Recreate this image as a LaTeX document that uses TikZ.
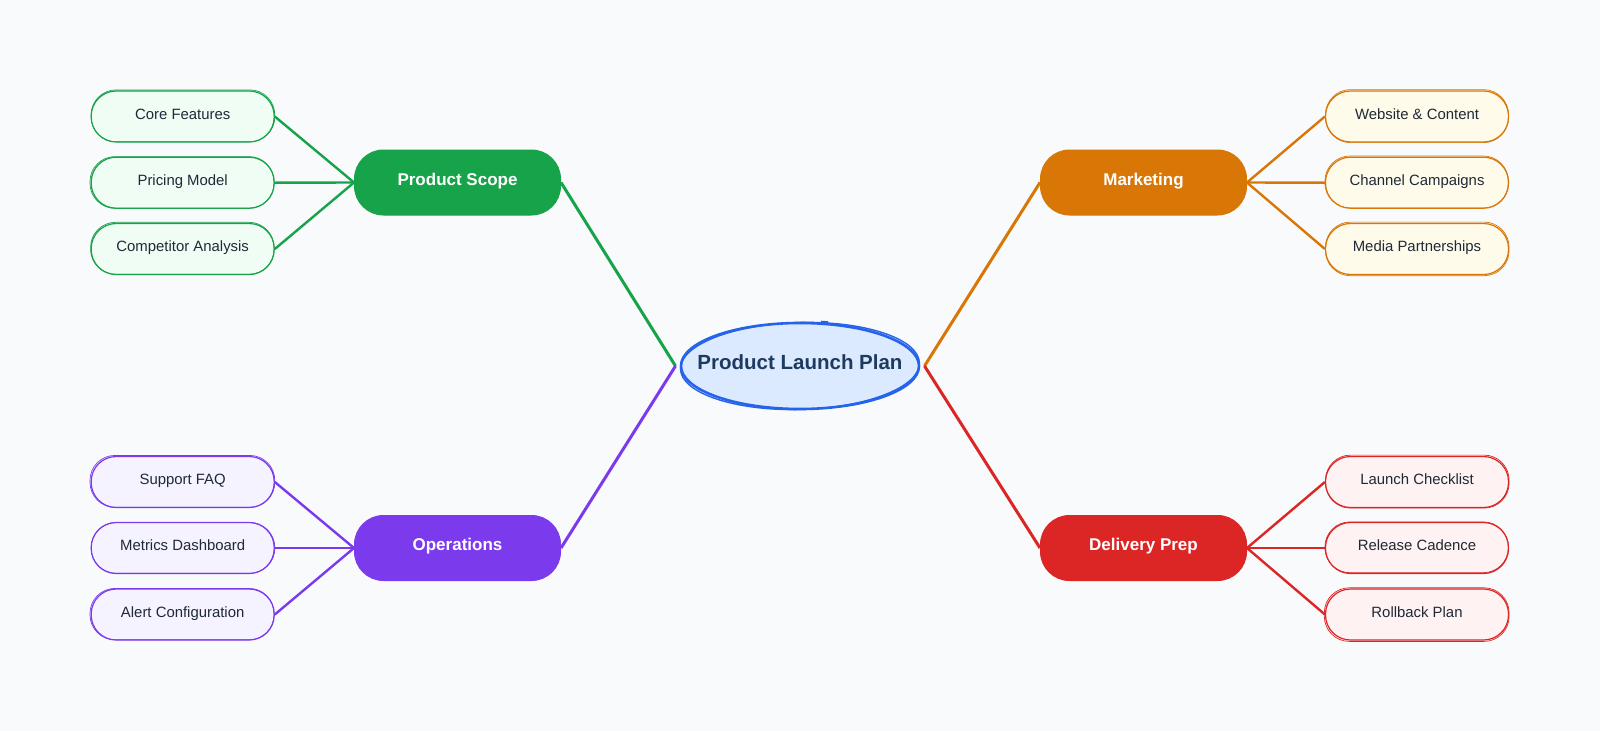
\documentclass[tikz,border=0pt]{standalone}
\usepackage{fontspec}
\setmainfont{Liberation Sans}
\usepackage{xcolor}
\usetikzlibrary{shapes.geometric}

\definecolor{pagebg}{HTML}{F9FAFC}
\definecolor{rootline}{HTML}{2563EB}
\definecolor{rootfill}{HTML}{DBEAFE}
\definecolor{roottext}{HTML}{1E3A5F}
\definecolor{leaftext}{HTML}{1F2937}
\definecolor{scopec}{HTML}{16A34A}
\definecolor{scopef}{HTML}{F0FDF4}
\definecolor{marketc}{HTML}{D97706}
\definecolor{marketf}{HTML}{FFFBEB}
\definecolor{opsc}{HTML}{7C3AED}
\definecolor{opsf}{HTML}{F5F3FF}
\definecolor{prepc}{HTML}{DC2626}
\definecolor{prepf}{HTML}{FEF2F2}

\tikzset{
  rootnode/.style={ellipse,draw=rootline,fill=rootfill,line width=2.6pt,minimum width=238pt,minimum height=86pt,
    inner ysep=0pt,inner xsep=-25pt,outer xsep=5.5pt,text=roottext,font=\fontsize{20.5}{24}\selectfont\bfseries,text height=16pt,text depth=8.5pt},
  branchnode/.style={draw=#1,fill=#1,line width=1pt,rounded corners=29pt,minimum width=206pt,minimum height=65pt,
    inner sep=0pt,text=white,font=\fontsize{17}{20}\selectfont\bfseries,text height=13pt,text depth=7.5pt},
  leafnode/.style 2 args={draw=#1,fill=#2,line width=1.2pt,rounded corners=25pt,minimum width=183pt,minimum height=51pt,
    inner sep=0pt,text=leaftext,font=\fontsize{14.9}{18}\selectfont,text height=12pt,text depth=7pt},
  sketch/.style={draw=#1,line width=.7pt,rounded corners=25pt},
  mainlink/.style={draw=#1,line width=3pt},
  sublink/.style={draw=#1,line width=2.4pt},
}

\begin{document}
\begin{tikzpicture}[x=1pt,y=-1pt]
\fill[pagebg] (0,0) rectangle (1600,731);

% Centre
\node[rootnode] (root) at (800,366) {Product Launch Plan};
\draw[rootline,line width=1.4pt,rotate around={1.5:(root.center)}] (root.center) ellipse (119.5pt and 43.5pt);
\draw[rootline,line width=1.6pt] (821,321.5) -- (828,322);

% Product Scope
\node[branchnode=scopec] (scope) at (457.5,182.5) {Product Scope};
\node[leafnode={scopec}{scopef}] (core) at (182.7,116.5) {Core Features};
\node[leafnode={scopec}{scopef}] (pricing) at (182.7,182.7) {Pricing Model};
\node[leafnode={scopec}{scopef}] (rival) at (182.7,249) {Competitor Analysis};
\draw[sketch=scopec] ([xshift=.5pt,yshift=.8pt]core.south west) rectangle ([yshift=.5pt]core.north east);
\draw[sketch=scopec] ([xshift=-.6pt,yshift=.5pt]pricing.south west) rectangle ([xshift=-.8pt]pricing.north east);
\draw[sketch=scopec] ([yshift=.8pt]rival.south west) rectangle ([xshift=-.8pt,yshift=.6pt]rival.north east);

% Marketing
\node[branchnode=marketc] (market) at (1143.5,182.5) {Marketing};
\node[leafnode={marketc}{marketf}] (website) at (1417,116.5) {Website \& Content};
\node[leafnode={marketc}{marketf}] (channel) at (1417,182.7) {Channel Campaigns};
\node[leafnode={marketc}{marketf}] (media) at (1417,249) {Media Partnerships};
\draw[sketch=marketc] ([xshift=.6pt]website.south west) rectangle ([xshift=-.6pt,yshift=.8pt]website.north east);
\draw[sketch=marketc] ([yshift=.8pt]channel.south west) rectangle ([xshift=-.8pt,yshift=.6pt]channel.north east);
\draw[sketch=marketc] ([xshift=.6pt,yshift=-.6pt]media.south west) rectangle ([yshift=.8pt]media.north east);

% Operations
\node[branchnode=opsc] (ops) at (457.5,548) {Operations};
\node[leafnode={opsc}{opsf}] (faq) at (182.7,482) {Support FAQ};
\node[leafnode={opsc}{opsf}] (metrics) at (182.7,548) {Metrics Dashboard};
\node[leafnode={opsc}{opsf}] (alert) at (182.7,614.5) {Alert Configuration};
\draw[sketch=opsc] ([xshift=-.6pt,yshift=.8pt]faq.south west) rectangle ([yshift=.5pt]faq.north east);
\draw[sketch=opsc] ([xshift=.6pt,yshift=.8pt]metrics.south west) rectangle ([yshift=-.6pt]metrics.north east);
\draw[sketch=opsc] ([xshift=-.6pt,yshift=.8pt]alert.south west) rectangle ([xshift=-.8pt]alert.north east);

% Delivery Prep
\node[branchnode=prepc] (prep) at (1143.5,548) {Delivery Prep};
\node[leafnode={prepc}{prepf}] (launch) at (1417,482) {Launch Checklist};
\node[leafnode={prepc}{prepf}] (release) at (1417,548) {Release Cadence};
\node[leafnode={prepc}{prepf}] (rollback) at (1417,614.5) {Rollback Plan};
\draw[sketch=prepc] ([xshift=.6pt]launch.south west) rectangle ([yshift=.8pt]launch.north east);
\draw[sketch=prepc] ([yshift=1.4pt]release.south west) rectangle ([xshift=-.8pt]release.north east);
\draw[sketch=prepc] ([xshift=-.6pt,yshift=-.8pt]rollback.south west) rectangle ([yshift=.6pt]rollback.north east);

% Links from the centre
\draw[mainlink=scopec] (root.west) -- (scope.east);
\draw[mainlink=marketc] (root.east) -- (market.west);
\draw[mainlink=opsc] (root.west) -- (ops.east);
\draw[mainlink=prepc] (root.east) -- (prep.west);

% Links to the leaves
\draw[sublink=scopec] (core.east) -- (scope.west);
\draw[sublink=scopec] (pricing.east) -- (scope.west);
\draw[sublink=scopec] (rival.east) -- (scope.west);
\draw[sublink=marketc] (market.east) -- (website.west);
\draw[sublink=marketc] (market.east) -- (channel.west);
\draw[sublink=marketc] (market.east) -- (media.west);
\draw[sublink=opsc] (faq.east) -- (ops.west);
\draw[sublink=opsc] (metrics.east) -- (ops.west);
\draw[sublink=opsc] (alert.east) -- (ops.west);
\draw[sublink=prepc] (prep.east) -- (launch.west);
\draw[sublink=prepc] (prep.east) -- (release.west);
\draw[sublink=prepc] (prep.east) -- (rollback.west);
\end{tikzpicture}
\end{document}
